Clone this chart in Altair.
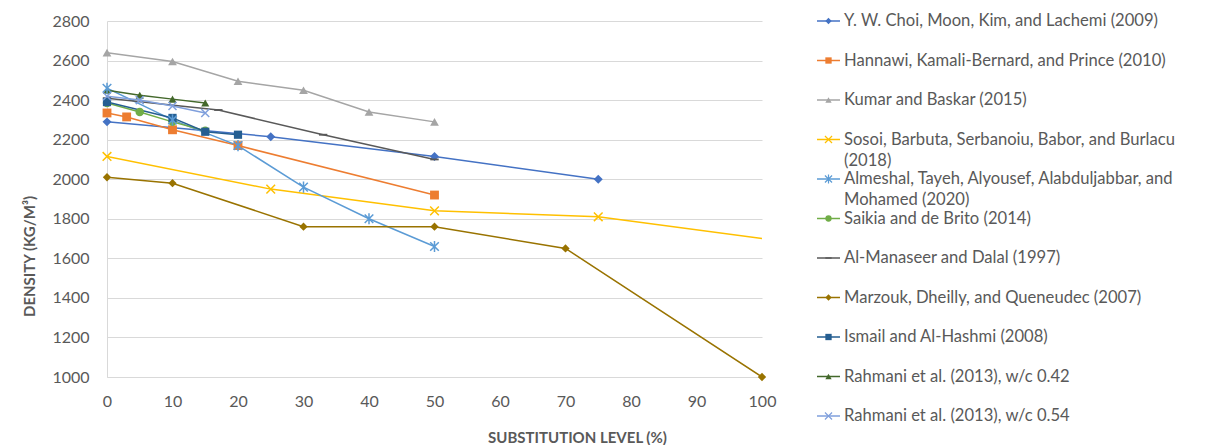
import altair as alt
import pandas as pd

# ---------------- data ----------------
series_names = [
    "Y. W. Choi, Moon, Kim, and Lachemi (2009)",
    "Hannawi, Kamali-Bernard, and Prince (2010)",
    "Kumar and Baskar (2015)",
    "Sosoi, Barbuta, Serbanoiu, Babor, and Burlacu (2018)",
    "Almeshal, Tayeh, Alyousef, Alabduljabbar, and Mohamed (2020)",
    "Saikia and de Brito (2014)",
    "Al-Manaseer and Dalal (1997)",
    "Marzouk, Dheilly, and Queneudec (2007)",
    "Ismail and Al-Hashmi (2008)",
    "Rahmani et al. (2013), w/c 0.42",
    "Rahmani et al. (2013), w/c 0.54",
]
legend_labels = [
    "Y. W. Choi, Moon, Kim, and Lachemi (2009)",
    "Hannawi, Kamali-Bernard, and Prince (2010)",
    "Kumar and Baskar (2015)",
    "Sosoi, Barbuta, Serbanoiu, Babor, and Burlacu\n(2018)",
    "Almeshal, Tayeh, Alyousef, Alabduljabbar, and\nMohamed (2020)",
    "Saikia and de Brito (2014)",
    "Al-Manaseer and Dalal (1997)",
    "Marzouk, Dheilly, and Queneudec (2007)",
    "Ismail and Al-Hashmi (2008)",
    "Rahmani et al. (2013), w/c 0.42",
    "Rahmani et al. (2013), w/c 0.54",
]

x_choi = [0, 25, 50, 75]
y_choi = [2290, 2215, 2115, 2000]
x_hannawi = [0, 3, 10, 20, 50]
y_hannawi = [2335, 2315, 2250, 2170, 1920]
x_kumar = [0, 10, 20, 30, 40, 50]
y_kumar = [2640, 2595, 2495, 2450, 2340, 2290]
x_sosoi = [0, 25, 50, 75, 125]
y_sosoi = [2115, 1950, 1840, 1810, 1590]
x_almeshal = [0, 10, 20, 30, 40, 50]
y_almeshal = [2460, 2300, 2170, 1960, 1800, 1660]
x_saikia = [0, 5, 10, 15]
y_saikia = [2385, 2340, 2290, 2245]
x_almanaseer = [0, 17, 33, 50]
y_almanaseer = [2410, 2350, 2225, 2100]
x_marzouk = [0, 10, 30, 50, 70, 100]
y_marzouk = [2010, 1980, 1760, 1760, 1650, 1000]
x_ismail = [0, 10, 15, 20]
y_ismail = [2390, 2310, 2240, 2225]
x_rahmani42 = [0, 5, 10, 15]
y_rahmani42 = [2450, 2425, 2405, 2385]
x_rahmani54 = [0, 5, 10, 15]
y_rahmani54 = [2420, 2400, 2370, 2335]

x_ticks = [0, 10, 20, 30, 40, 50, 60, 70, 80, 90, 100]
y_ticks = [1000, 1200, 1400, 1600, 1800, 2000, 2200, 2400, 2600, 2800]

# ---------------- styles ----------------
colors = ["#4472C4", "#ED7D31", "#A5A5A5", "#FFC000", "#5B9BD5", "#70AD47",
          "#595959", "#997300", "#255E91", "#43682B", "#7F9FDC"]
X_PATH = "M-1,-1L1,1M1,-1L-1,1"
STAR_PATH = "M-1,-1L1,1M1,-1L-1,1M0,-1.3L0,1.3"
DASH_PATH = "M-1,-0.22L1,-0.22L1,0.22L-1,0.22Z"
shapes = ["diamond", "square", "triangle-up", X_PATH, STAR_PATH, "circle",
          DASH_PATH, "diamond", "square", "triangle-up", X_PATH]
sizes = [80, 64, 80, 90, 90, 64, 64, 80, 64, 80, 90]
stroked = [series_names[i] for i in (3, 4, 10)]
filled = [n for n in series_names if n not in stroked]

xs_all = [x_choi, x_hannawi, x_kumar, x_sosoi, x_almeshal, x_saikia,
          x_almanaseer, x_marzouk, x_ismail, x_rahmani42, x_rahmani54]
ys_all = [y_choi, y_hannawi, y_kumar, y_sosoi, y_almeshal, y_saikia,
          y_almanaseer, y_marzouk, y_ismail, y_rahmani42, y_rahmani54]

rows = []
for i, (name, xs, ys) in enumerate(zip(series_names, xs_all, ys_all)):
    for xv, yv in zip(xs, ys):
        rows.append({"series": name, "order": i, "x": xv, "y": yv})
df = pd.DataFrame(rows)

leg_df = pd.DataFrame({"series": series_names, "label": legend_labels,
                       "order": list(range(len(series_names)))})

FONT = "Lato"
TXT = "#595959"
GRID = "#D9D9D9"

color_scale = alt.Scale(domain=series_names, range=colors)
shape_scale = alt.Scale(domain=series_names, range=shapes)
size_scale = alt.Scale(domain=series_names, range=sizes)

x_enc = alt.X("x:Q", scale=alt.Scale(domain=[0, 100], nice=False),
              axis=alt.Axis(values=x_ticks, tickCount=11, grid=False, ticks=False,
                            tickSize=0, labelPadding=16, domainColor=GRID,
                            labelFontSize=16, labelColor=TXT, labelFont=FONT,
                            labelFlush=False, labelOverlap=False, format="d",
                            title="SUBSTITUTION LEVEL (%)", titleFont=FONT,
                            titleFontSize=15, titleFontWeight="bold",
                            titleColor=TXT, titlePadding=21, titleX=470))
y_enc = alt.Y("y:Q", scale=alt.Scale(domain=[1000, 2800], nice=False, zero=False),
              axis=alt.Axis(values=y_ticks, tickCount=10, grid=True, gridColor=GRID,
                            ticks=False, tickSize=0, labelPadding=18,
                            labelOverlap=False, labelFlush=False, format="d",
                            domainColor=GRID, labelFontSize=16, labelColor=TXT,
                            labelFont=FONT, title="DENSITY (KG/M³)",
                            titleFont=FONT, titleFontSize=15,
                            titleFontWeight="bold", titleColor=TXT,
                            titlePadding=14, titleY=235))

base = alt.Chart(df)
lines = base.mark_line(strokeWidth=1.5, clip=True).encode(
    x=x_enc, y=y_enc,
    color=alt.Color("series:N", scale=color_scale, legend=None),
    detail="series:N",
    order="x:Q",
)
pts_filled = base.transform_filter(
    alt.FieldOneOfPredicate(field="series", oneOf=filled)
).transform_filter("datum.x <= 100").mark_point(filled=True, opacity=1).encode(
    x="x:Q", y="y:Q",
    color=alt.Color("series:N", scale=color_scale, legend=None),
    shape=alt.Shape("series:N", scale=shape_scale, legend=None),
    size=alt.Size("series:N", scale=size_scale, legend=None),
)
pts_stroked = base.transform_filter(
    alt.FieldOneOfPredicate(field="series", oneOf=stroked)
).transform_filter("datum.x <= 100").mark_point(filled=False, opacity=1,
                                                strokeWidth=1.5).encode(
    x="x:Q", y="y:Q",
    color=alt.Color("series:N", scale=color_scale, legend=None),
    shape=alt.Shape("series:N", scale=shape_scale, legend=None),
    size=alt.Size("series:N", scale=size_scale, legend=None),
)
plot = alt.layer(lines, pts_filled, pts_stroked).properties(width=655, height=356)

# ---------------- legend panel ----------------
leg_y = alt.Y("series:N", sort=series_names,
              scale=alt.Scale(type="point", padding=0), axis=None)
lbase = alt.Chart(leg_df)
leg_line = lbase.mark_rule(strokeWidth=1.5).encode(
    x=alt.value(0), x2=alt.value(23), y=leg_y,
    color=alt.Color("series:N", scale=color_scale, legend=None),
)
leg_pf = lbase.transform_filter(
    alt.FieldOneOfPredicate(field="series", oneOf=filled)
).mark_point(filled=True, opacity=1, size=40).encode(
    x=alt.value(11.5), y=leg_y,
    color=alt.Color("series:N", scale=color_scale, legend=None),
    shape=alt.Shape("series:N", scale=shape_scale, legend=None),
)
leg_ps = lbase.transform_filter(
    alt.FieldOneOfPredicate(field="series", oneOf=stroked)
).mark_point(filled=False, opacity=1, size=50, strokeWidth=1.2).encode(
    x=alt.value(11.5), y=leg_y,
    color=alt.Color("series:N", scale=color_scale, legend=None),
    shape=alt.Shape("series:N", scale=shape_scale, legend=None),
)
leg_text = lbase.mark_text(align="left", baseline="top", dy=-8, lineBreak="\n",
                           lineHeight=21, fontSize=16.6, font=FONT,
                           color=TXT).encode(
    x=alt.value(27), y=leg_y, text="label:N",
)
legend = alt.layer(leg_line, leg_pf, leg_ps, leg_text).properties(width=370, height=395)

chart = alt.hconcat(plot, legend, spacing=40).configure(
    font=FONT
).configure_view(stroke=None).properties(
    padding={"left": 14, "top": 5, "right": 2, "bottom": 2})

chart.save("out.html", embed_options={"renderer": "svg", "actions": False})
